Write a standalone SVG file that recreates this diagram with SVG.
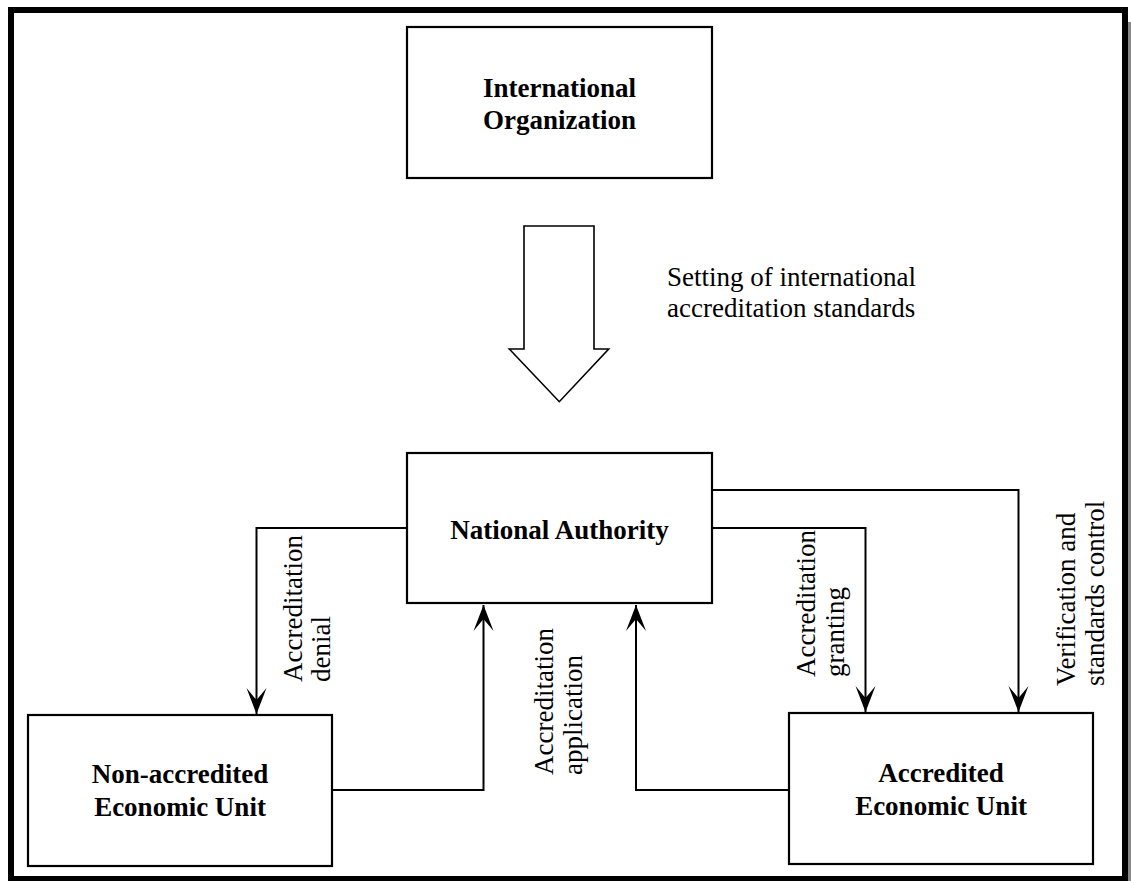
<svg xmlns="http://www.w3.org/2000/svg" width="1131" height="881" viewBox="0 0 1131 881">
<style>
.box{fill:#fff;stroke:#000;stroke-width:2.2}
.bt{font-family:"Liberation Serif","Times New Roman",serif;font-weight:bold;font-size:27px;fill:#000;text-anchor:middle}
.lt{font-family:"Liberation Serif","Times New Roman",serif;font-size:27px;fill:#000}
.con{fill:none;stroke:#000;stroke-width:2}
</style>
<defs>
<marker id="ah" markerUnits="userSpaceOnUse" markerWidth="30" markerHeight="24" viewBox="-28 -12 30 24" refX="0" refY="0" orient="auto">
<path d="M0,0 L-26,-10 L-14,0 L-26,10 Z" fill="#000"/>
</marker>
</defs>
<rect x="0" y="0" width="1131" height="881" fill="#fff"/>
<rect x="1128" y="22" width="3" height="859" fill="#888"/>
<rect x="11" y="10" width="1114" height="869" fill="none" stroke="#000" stroke-width="6"/>

<g id="connectors">
<path class="con" d="M407,528 H256.5 V714" marker-end="url(#ah)"/>
<path class="con" d="M332,790 H483.5 V605" marker-end="url(#ah)"/>
<path class="con" d="M789,790 H636 V605" marker-end="url(#ah)"/>
<path class="con" d="M712,528 H865.5 V712" marker-end="url(#ah)"/>
<path class="con" d="M712,490 H1018.5 V712" marker-end="url(#ah)"/>
<polygon points="524,226 594,226 594,349 608.7,349 559.3,401.7 509.3,349 524,349" fill="#fff" stroke="#000" stroke-width="1.6"/>
<text class="lt" x="667" y="286">Setting of international</text>
<text class="lt" x="667" y="317">accreditation standards</text>
<text class="lt" transform="translate(301.5,682) rotate(-90)">Accreditation</text>
<text class="lt" transform="translate(330,682) rotate(-90)">denial</text>
<text class="lt" transform="translate(553,775) rotate(-90)">Accreditation</text>
<text class="lt" transform="translate(582,775) rotate(-90)">application</text>
<text class="lt" transform="translate(815,677) rotate(-90)">Accreditation</text>
<text class="lt" transform="translate(844,677) rotate(-90)">granting</text>
<text class="lt" transform="translate(1075,686) rotate(-90)">Verification and</text>
<text class="lt" transform="translate(1104,686) rotate(-90)">standards control</text>
</g>

<g id="international-organization">
<rect class="box" x="407" y="27" width="305" height="151"/>
<text class="bt" x="559.5" y="97">International</text>
<text class="bt" x="559.5" y="129">Organization</text>
</g>

<g id="national-authority">
<rect class="box" x="407" y="453" width="305" height="150"/>
<text class="bt" x="559.5" y="539">National Authority</text>
</g>

<g id="non-accredited-unit">
<rect class="box" x="28" y="715" width="304" height="151"/>
<text class="bt" x="180" y="783">Non-accredited</text>
<text class="bt" x="180" y="816">Economic Unit</text>
</g>

<g id="accredited-unit">
<rect class="box" x="789" y="713" width="304" height="151"/>
<text class="bt" x="941" y="782">Accredited</text>
<text class="bt" x="941" y="815">Economic Unit</text>
</g>
</svg>
